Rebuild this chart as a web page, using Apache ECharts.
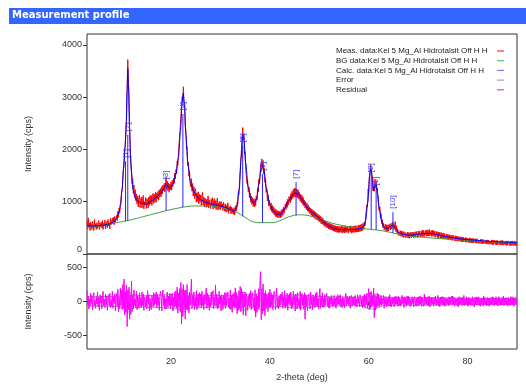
<!DOCTYPE html>
<html>
<head>
<meta charset="utf-8">
<title>Measurement profile</title>
<script src="https://cdn.jsdelivr.net/npm/echarts@6.0.0/dist/echarts.min.js"></script>
<style>
  html, body { margin: 0; padding: 0; background: #fff; }
  #chart { width: 526px; height: 385px; }
</style>
</head>
<body>
<div id="chart"></div>
<script>
// axis ranges and ticks
const thetaMin = 3;
const thetaMax = 90;
const thetaTicks = [20, 40, 60, 80];
const intensityTicks = [0, 1000, 2000, 3000, 4000];
const residualTicks = [-500, 0, 500];

// measured profile, 3..90 deg every 0.125 deg (one row per degree)
const measStart = 3;
const measStep = 0.125;
const measCps = [
  630, 480, 690, 520, 590, 450, 610, 560,
  470, 620, 540, 450, 660, 510, 580, 470,
  600, 490, 560, 640, 470, 590, 520, 610,
  500, 640, 470, 590, 540, 650, 480, 570,
  620, 500, 660, 540, 590, 480, 680, 560,
  540, 690, 580, 700, 560, 720, 610, 680,
  740, 640, 820, 700, 880, 780, 960, 1050,
  1180, 1220, 1450, 1480, 1790, 1820, 2130, 2150,
  2540, 3160, 3720, 3280, 3010, 2450, 2090, 1720,
  1620, 1350, 1440, 1170, 1320, 1080, 1230, 1020,
  1150, 960, 1110, 900, 1070, 1130, 890, 1040,
  1090, 880, 1030, 1120, 860, 1000, 940, 1080,
  870, 1060, 1010, 880, 1090, 930, 1120, 960,
  1120, 930, 1080, 1160, 970, 1140, 990, 1180,
  990, 1170, 1060, 1200, 1030, 1230, 1090, 1250,
  1100, 1290, 1150, 1320, 1210, 1350, 1190, 1370,
  1480, 1250, 1390, 1210, 1360, 1180, 1340, 1230,
  1380, 1220, 1410, 1290, 1450, 1350, 1550, 1440,
  1620, 1530, 1780, 1700, 1930, 1950, 2260, 2250,
  2620, 2610, 3010, 2930, 3200, 2860, 2900, 2450,
  2380, 2010, 2050, 1690, 1760, 1490, 1580, 1340,
  1290, 1440, 1200, 1350, 1110, 1290, 1060, 1250,
  1200, 990, 1170, 1010, 1190, 960, 1140, 1000,
  1130, 930, 1110, 1180, 940, 1090, 900, 1070,
  1080, 890, 1050, 910, 1110, 880, 1030, 950,
  870, 1050, 920, 1080, 860, 1010, 1060, 880,
  1020, 850, 990, 1070, 840, 980, 860, 1010,
  850, 1000, 880, 960, 830, 990, 910, 820,
  960, 800, 930, 820, 980, 780, 900, 830,
  920, 770, 900, 780, 870, 760, 890, 750,
  780, 930, 820, 990, 950, 1180, 1140, 1410,
  1400, 1800, 1820, 2200, 2420, 2180, 2300, 1910,
  1960, 1610, 1640, 1350, 1410, 1190, 1280, 1080,
  1170, 990, 1110, 950, 1080, 910, 1050, 900,
  1060, 920, 1110, 1030, 1260, 1190, 1430, 1350,
  1480, 1720, 1580, 1820, 1640, 1790, 1530, 1640,
  1370, 1440, 1180, 1260, 1020, 1130, 920, 1030,
  1010, 850, 980, 810, 930, 780, 900, 750,
  870, 720, 850, 710, 830, 690, 820, 700,
  820, 690, 830, 710, 860, 740, 900, 780,
  800, 960, 850, 1000, 890, 1050, 940, 1100,
  1120, 980, 1160, 1030, 1200, 1060, 1240, 1090,
  1260, 1090, 1250, 1100, 1240, 1070, 1220, 1050,
  1180, 1010, 1140, 980, 1120, 950, 1080, 920,
  1030, 880, 1000, 850, 970, 820, 940, 800,
  900, 770, 880, 740, 860, 720, 840, 710,
  820, 680, 800, 660, 780, 650, 760, 630,
  740, 610, 720, 580, 700, 570, 680, 550,
  650, 530, 630, 510, 620, 500, 600, 480,
  590, 470, 580, 460, 570, 450, 560, 440,
  550, 430, 540, 420, 530, 410, 535, 415,
  530, 410, 520, 420, 540, 400, 525, 415,
  520, 405, 540, 410, 510, 420, 535, 400,
  410, 530, 420, 540, 400, 520, 415, 535,
  410, 535, 420, 545, 415, 530, 425, 550,
  420, 550, 430, 560, 440, 575, 450, 590,
  470, 610, 540, 720, 690, 940, 900, 1240,
  1180, 1480, 1450, 1720, 1700, 1530, 1480, 1210,
  1290, 1200, 1420, 1260, 1400, 1210, 1260, 1030,
  1060, 830, 900, 690, 770, 580, 660, 500,
  590, 460, 520, 570, 440, 560, 430, 555,
  440, 570, 600, 460, 590, 480, 520, 610,
  610, 470, 570, 620, 430, 540, 390, 470,
  470, 350, 390, 450, 340, 440, 330, 430,
  320, 430, 420, 310, 410, 360, 315, 420,
  305, 410, 300, 415, 370, 310, 420, 330,
  420, 310, 360, 425, 320, 430, 440, 315,
  440, 330, 435, 380, 325, 445, 335, 450,
  330, 455, 335, 400, 450, 340, 460, 345,
  455, 340, 470, 345, 390, 450, 335, 460,
  340, 445, 335, 440, 320, 370, 430, 315,
  425, 310, 420, 360, 305, 415, 300, 400,
  295, 395, 290, 390, 285, 340, 385, 280,
  375, 275, 370, 320, 270, 365, 265, 360,
  260, 355, 300, 255, 350, 250, 345, 245,
  340, 245, 335, 285, 240, 330, 235, 325,
  235, 320, 230, 275, 315, 225, 310, 225,
  305, 270, 220, 310, 215, 300, 215, 295,
  215, 300, 210, 255, 295, 210, 290, 205,
  290, 205, 250, 285, 200, 280, 200, 280,
  195, 280, 195, 240, 275, 195, 270, 190,
  270, 190, 265, 185, 235, 265, 185, 265,
  180, 270, 180, 265, 230, 180, 260, 175,
  260, 175, 225, 255, 175, 255, 170, 255,
  170, 260, 170, 220, 255, 170, 250, 165,
  250, 165, 250, 215, 165, 245, 160, 245,
  160, 250, 215, 160, 245, 160, 240, 158,
  230
];

// residual, same steps as measCps
const residualCps = [
  160, -50, 80, -110, 40, -70, 120, -30,
  90, -120, 50, 130, -60, 20, -100, 70,
  -40, 140, -80, 60, -130, 100, -20, 80,
  -110, 50, 150, -70, 30, -90, 110, -50,
  80, -130, 40, 100, -60, 120, -90, 20,
  -70, 150, -100, 60, -30, 110, -140, 90,
  120, -80, 180, -150, 60, -110, 200, -60,
  170, -120, 250, -90, 330, -200, 140, -160,
  240, -370, 160, -120, 210, -260, 100, -190,
  300, -150, 90, -110, 170, -60, 40, -90,
  150, -120, 90, 20, -100, 130, -70, 60,
  -90, 140, -60, 110, -130, 70, 30, -80,
  80, -110, 160, -40, 100, -140, 50, -70,
  -120, 90, 40, -80, 130, -60, 110, -30,
  140, -90, 110, -50, 70, -130, 90, 150,
  80, -140, 100, 170, -60, 90, -110, 40,
  -110, 60, 140, -90, 80, -60, 120, -100,
  100, -50, 120, -140, 60, -90, 140, -70,
  160, -100, 210, -170, 120, -80, 190, -150,
  280, -330, 190, -220, 250, -120, 160, -260,
  170, -110, 250, -130, 90, -170, 140, -60,
  120, 330, -100, 90, -60, 140, -120, 70,
  -70, 160, -120, 60, 110, -80, 130, -50,
  110, -90, 150, -60, 80, -120, 100, -40,
  70, 200, -100, 120, -70, 90, -130, 60,
  -80, 140, -50, 90, 160, -110, 70, -60,
  240, -70, 110, -110, 60, -90, 150, -40,
  80, -140, 100, 50, -120, 90, -60, 130,
  -100, 130, -60, 70, 140, -80, 50, -110,
  170, -120, 90, -160, 110, -70, 130, -90,
  200, -90, 130, -180, 80, -130, 160, -100,
  220, -150, 190, -100, 140, -200, 110, -80,
  140, -210, 110, 70, -130, 90, -70, 120,
  -80, 160, -120, 90, 130, -90, 60, -140,
  170, -230, 110, -160, 80, -120, 190, -90,
  310, 440, -270, 190, -180, 260, -140, 120,
  -210, 160, -100, 110, 60, -150, 130, -80,
  180, -90, 130, -70, 100, -120, 80, 150,
  100, -120, 70, 200, -90, 60, -110, 80,
  -80, 110, -50, 90, 140, -100, 60, -70,
  160, -100, 70, -70, 120, -130, 90, -40,
  120, -60, 140, -110, 70, -90, 150, -50,
  90, -140, 110, 60, -110, 130, -70, 40,
  -100, 150, -130, 80, 120, -60, 90, -120,
  130, -260, 100, -70, 80, -140, 60, 110,
  90, -110, 140, -50, 70, -120, 100, -60,
  70, -90, 120, -60, 140, -80, 50, -110,
  110, 190, -100, 70, -60, 130, -90, 50,
  -80, 100, -50, 80, 120, -70, 60, -90,
  70, -100, 60, -40, 90, -80, 50, -60,
  90, -70, 50, -100, 70, -50, 100, -40,
  80, -50, 100, -80, 40, -90, 70, -60,
  50, -90, 70, 120, -60, 80, -40, 60,
  -60, 80, -100, 50, 90, -70, 60, -50,
  70, -50, 90, -70, 40, -80, 100, -30,
  60, -80, 100, 50, -70, 60, -90, 80,
  -70, 110, -90, 80, -50, 120, -100, 60,
  190, -120, 130, -100, 150, -80, 90, -60,
  200, -240, 100, -130, 80, -90, 120, -70,
  110, -80, 70, -50, 90, -60, 50, -40,
  90, -100, 60, -40, 70, -80, 50, -60,
  70, -60, 100, -70, 50, -80, 60, -40,
  50, -80, 70, -50, 80, -40, 60, -70,
  80, -60, 50, -70, 40, -50, 90, -30,
  60, -90, 70, -40, 50, -70, 80, -50,
  80, -50, 60, -70, 40, -60, 70, -30,
  50, -80, 70, 40, -60, 50, -70, 60,
  -60, 70, -50, 80, -40, 60, -70, 50,
  60, -70, 110, -50, 70, -40, 50, -60,
  70, -60, 80, -80, 50, -50, 60, -40,
  50, -70, 60, -40, 80, -60, 40, -50,
  90, -60, 50, -80, 60, -40, 70, -50,
  70, -50, 60, -70, 50, -60, 40, -40,
  50, -60, 70, -50, 60, -40, 80, -50,
  80, -40, 60, -70, 50, -50, 40, -60,
  50, -80, 70, -50, 60, -40, 50, -60,
  60, -50, 90, -60, 40, -50, 70, -40,
  50, -70, 60, -40, 50, -60, 40, -50,
  70, -60, 50, -80, 60, -40, 70, -50,
  60, -50, 70, -60, 40, -70, 50, -40,
  50, -70, 80, -40, 60, -50, 40, -60,
  60, -60, 50, -70, 40, -50, 60, -40,
  70, -50, 60, -60, 50, -40, 70, -50,
  50, -70, 70, -40, 60, -60, 40, -50,
  60, -50, 80, -60, 50, -40, 60, -50,
  50, -70, 60, -50, 40, -60, 70, -40,
  70, -50, 60, -70, 50, -40, 60, -50,
  40
];

// calculated profile
const calcTheta = [3, 4, 5, 6, 7, 8, 8.5, 9, 9.5, 9.8, 10.1, 10.4, 10.7, 10.9, 11.1, 11.25, 11.4, 11.6, 11.8, 12.0,
  12.3, 12.7, 13.2, 14, 15, 16, 17, 18, 18.6, 19.0, 19.4, 19.8, 20.4, 21.0, 21.5, 21.9, 22.2, 22.45, 22.7, 23.0,
  23.4, 23.9, 24.5, 25.3, 26, 27, 28, 29, 30, 31, 32, 32.8, 33.3, 33.8, 34.2, 34.5, 34.75, 35.1, 35.6, 36.2,
  36.8, 37.3, 37.8, 38.2, 38.5, 38.8, 39.3, 40.0, 40.8, 41.6, 42.3, 43.0, 43.8, 44.5, 45.2, 45.8, 46.5, 47.3, 48.3, 49.4,
  50.4, 51.4, 52.4, 53.4, 54.5, 55.5, 56.5, 57.5, 58.5, 59.0, 59.4, 59.8, 60.2, 60.45, 60.7, 60.95, 61.25, 61.5, 61.8, 62.2,
  62.6, 63.0, 63.5, 64.0, 64.5, 64.9, 65.4, 66.0, 67, 68, 69, 70, 71, 72, 73, 74, 75, 76, 77, 78,
  80, 82, 84, 86, 88, 90];
const calcCps = [540, 535, 540, 550, 560, 595, 630, 680, 810, 940, 1240, 1640, 2040, 2390, 3090, 3550, 3240, 2390, 1890, 1540,
  1240, 1090, 1010, 970, 950, 1010, 1080, 1170, 1260, 1320, 1290, 1260, 1340, 1540, 1840, 2340, 2840, 3070, 2890, 2290,
  1740, 1390, 1210, 1090, 1040, 990, 960, 940, 920, 890, 850, 820, 890, 1240, 1840, 2290, 2190, 1740, 1290, 1040,
  970, 1040, 1340, 1640, 1710, 1590, 1240, 940, 810, 750, 770, 870, 1010, 1120, 1175, 1140, 1040, 920, 810, 730,
  650, 570, 510, 475, 465, 465, 468, 472, 490, 530, 650, 990, 1490, 1630, 1440, 1210, 1320, 1330, 1140, 840,
  630, 530, 490, 500, 540, 550, 490, 410, 375, 360, 365, 380, 390, 395, 390, 370, 345, 325, 310, 295,
  275, 260, 245, 235, 225, 218];

// background
const bgTheta = [3, 5, 7, 9, 11, 13, 15, 17, 19, 21, 23, 25, 27, 29, 31, 33, 35, 36.5, 38, 40,
  41.5, 43, 44.5, 46, 47.5, 49, 51, 53, 55, 57, 59, 61, 63, 65, 67, 69, 72, 76, 80, 84, 88, 90];
const bgCps = [510, 530, 560, 600, 635, 680, 730, 780, 830, 870, 905, 920, 920, 905, 870, 810, 700, 620, 600, 600,
  620, 680, 730, 750, 740, 700, 640, 580, 540, 510, 485, 465, 440, 400, 360, 335, 312, 285, 262, 240, 222, 212];

// error band
const errTheta = [3, 9, 10.5, 11.25, 12, 14, 19, 21.5, 22.5, 23.5, 26, 30, 33, 34.5, 36, 38.5, 40, 42, 45, 50,
  55, 58, 60.5, 61.5, 63, 66, 72, 80, 90];
const errUpper = [70, 76, 115, 165, 110, 86, 100, 120, 155, 112, 92, 88, 84, 135, 95, 118, 88, 80, 98, 76,
  66, 64, 115, 105, 68, 58, 57, 48, 42];
const errLower = [-66, -72, -110, -160, -106, -82, -96, -116, -150, -108, -88, -84, -80, -130, -92, -114, -84, -76, -94, -72,
  -62, -60, -110, -100, -64, -55, -54, -46, -44];

// peak markers
const peakNames = ['[1]', '[2]', '[3]', '[4]', '[5]', '[6]', '[7]', '[8]', '[9]', '[10]'];
const peakTheta = [10.8, 11.25, 19.0, 22.4, 34.5, 38.5, 45.3, 60.5, 61.5, 64.9];
const peakBase = [630, 640, 830, 895, 725, 600, 740, 470, 460, 402];
const peakLabel = [1925, 2435, 1510, 2830, 2225, 1680, 1525, 1650, 1395, 995];

const measName = 'Meas. data:Kel 5 Mg_Al Hidrotalsit Off H H';
const bgName = 'BG data:Kel 5 Mg_Al Hidrotalsit Off H H';
const calcName = 'Calc. data:Kel 5 Mg_Al Hidrotalsit Off H H';

const pairs = (xs, ys) => xs.map((x, i) => [x, ys[i]]);
const measPairs = measCps.map((v, i) => [measStart + i * measStep, v]);
const residualPairs = residualCps.map((v, i) => [measStart + i * measStep, v]);
const peakData = peakTheta.map((t, i) => [t, peakBase[i], peakLabel[i]]);

const axisText = { fontFamily: 'Liberation Sans', fontSize: 9, color: '#333' };

const chart = echarts.init(document.getElementById('chart'));

const option = {
    animation: false,
    backgroundColor: '#fff',
    graphic: [
        { type: 'rect', left: 9, top: 8, shape: { width: 517, height: 16 }, style: { fill: '#3366ff' } },
        { type: 'text', left: 12, top: 10, style: { text: 'Measurement profile', fill: '#fff', font: 'bold 10px "DejaVu Sans"' } }
    ],
    legend: {
        data: [measName, bgName, calcName, 'Error', 'Residual'],
        orient: 'vertical',
        left: 331,
        top: 42,
        align: 'right',
        icon: 'rect',
        itemWidth: 7,
        itemHeight: 1,
        itemGap: 1.7,
        selectedMode: false,
        formatter: name => '{t|' + name + '}',
        textStyle: {
            rich: {
                t: { width: 156, align: 'left', fontFamily: 'Liberation Sans', fontSize: 8, lineHeight: 10, color: '#222' }
            }
        }
    },
    grid: [
        { left: 87, right: 9, top: 34, height: 220, show: true, borderColor: '#333', borderWidth: 1 },
        { left: 87, right: 9, top: 254, height: 95, show: true, borderColor: '#333', borderWidth: 1 }
    ],
    xAxis: [
        {
            type: 'value', gridIndex: 0, min: thetaMin, max: thetaMax,
            axisLine: { show: false }, axisTick: { show: false }, axisLabel: { show: false }, splitLine: { show: false }
        },
        {
            type: 'value', gridIndex: 1, min: thetaMin, max: thetaMax,
            name: '2-theta (deg)', nameLocation: 'middle', nameGap: 24, nameTextStyle: axisText,
            axisLine: { show: false },
            axisTick: { show: true, length: 4, customValues: thetaTicks, lineStyle: { color: '#333' } },
            axisLabel: { ...axisText, margin: 8, customValues: thetaTicks },
            splitLine: { show: false }
        }
    ],
    yAxis: [
        {
            type: 'value', gridIndex: 0, min: 0, max: 4210,
            name: 'Intensity (cps)', nameLocation: 'middle', nameGap: 54, nameTextStyle: axisText,
            axisLine: { show: false },
            axisTick: { show: true, length: 4, customValues: intensityTicks, lineStyle: { color: '#333' } },
            axisLabel: {
                ...axisText, margin: 5, customValues: intensityTicks,
                formatter: v => (v === 0 ? '{z|0}' : String(v)),
                rich: { z: { fontFamily: 'Liberation Sans', fontSize: 9, color: '#333', padding: [0, 0, 9, 0] } }
            },
            splitLine: { show: false }
        },
        {
            type: 'value', gridIndex: 1, min: -700, max: 700,
            name: 'Intensity (cps)', nameLocation: 'middle', nameGap: 54, nameTextStyle: axisText,
            axisLine: { show: false },
            axisTick: { show: true, length: 4, customValues: residualTicks, lineStyle: { color: '#333' } },
            axisLabel: { ...axisText, margin: 5, customValues: residualTicks },
            splitLine: { show: false }
        }
    ],
    series: [
        {
            name: measName, type: 'line', xAxisIndex: 0, yAxisIndex: 0, data: measPairs,
            showSymbol: false, lineStyle: { color: '#ff0000', width: 1 }, itemStyle: { color: '#ff0000' }, z: 2
        },
        {
            name: bgName, type: 'line', xAxisIndex: 0, yAxisIndex: 0, data: pairs(bgTheta, bgCps),
            smooth: true, showSymbol: false, lineStyle: { color: '#3c9c3c', width: 1 }, itemStyle: { color: '#55aa55' }, z: 3
        },
        {
            name: calcName, type: 'line', xAxisIndex: 0, yAxisIndex: 0, data: pairs(calcTheta, calcCps),
            smooth: 0.3, smoothMonotone: 'x', showSymbol: false,
            lineStyle: { color: '#0000ff', width: 1 }, itemStyle: { color: '#6666ff' }, z: 4
        },
        {
            type: 'custom', xAxisIndex: 0, yAxisIndex: 0, data: peakData, z: 5,
            renderItem: function (params, api) {
                const x = api.value(0);
                const base = api.coord([x, api.value(1)]);
                const top = api.coord([x, api.value(2)]);
                const name = peakNames[params.dataIndex];
                const half = name.length * 2.3 + 1;
                return {
                    type: 'group',
                    children: [
                        {
                            type: 'line',
                            shape: { x1: base[0], y1: base[1], x2: top[0], y2: top[1] + half },
                            style: { stroke: '#2222ff', lineWidth: 1 }
                        },
                        {
                            type: 'text', x: top[0], y: top[1], rotation: Math.PI / 2,
                            style: { text: name, fill: '#4444ff', font: '8px "Liberation Sans"', align: 'center', verticalAlign: 'middle' }
                        }
                    ]
                };
            }
        },
        {
            name: 'Error', type: 'line', xAxisIndex: 1, yAxisIndex: 1, data: pairs(errTheta, errUpper),
            smooth: true, showSymbol: false, lineStyle: { color: '#909090', width: 1 }, itemStyle: { color: '#909090' }, z: 2
        },
        {
            name: 'Error', type: 'line', xAxisIndex: 1, yAxisIndex: 1, data: pairs(errTheta, errLower),
            smooth: true, showSymbol: false, lineStyle: { color: '#909090', width: 1 }, itemStyle: { color: '#909090' }, z: 2
        },
        {
            name: 'Residual', type: 'line', xAxisIndex: 1, yAxisIndex: 1, data: residualPairs,
            showSymbol: false, lineStyle: { color: '#ff00ff', width: 1 }, itemStyle: { color: '#ff00ff' }, z: 3
        }
    ]
};

chart.setOption(option);
</script>
</body>
</html>
